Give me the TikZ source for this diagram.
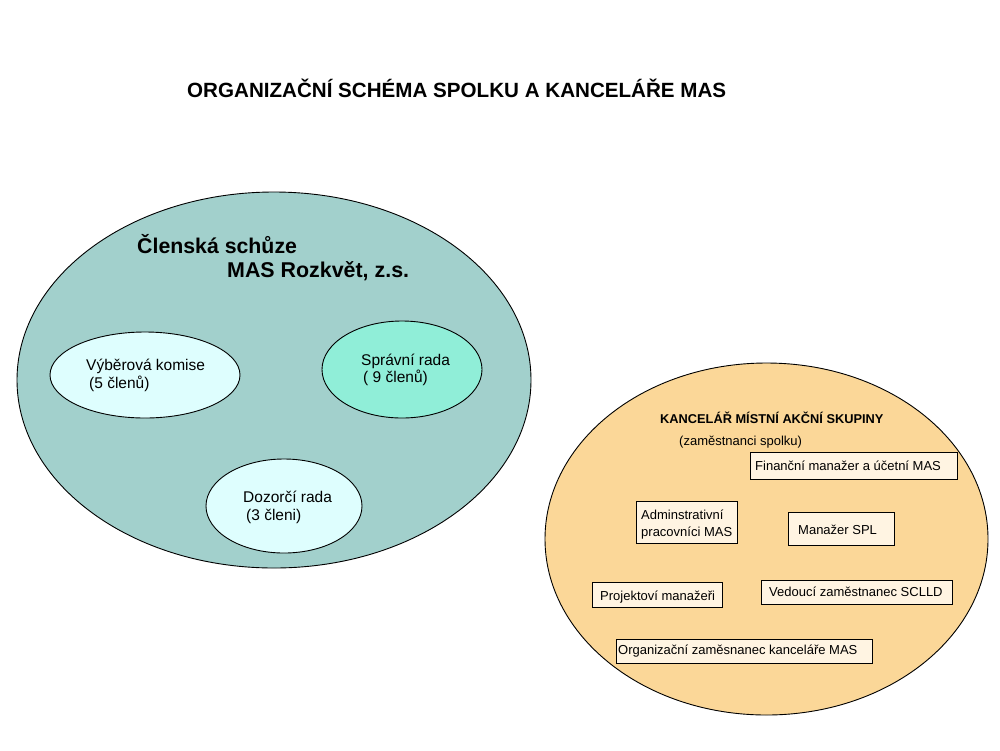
\documentclass[tikz,border=0pt]{standalone}
\usepackage{fontspec}
\setmainfont{Liberation Sans}
\usetikzlibrary{shapes.geometric}
\definecolor{bigteal}{RGB}{162,208,204}
\definecolor{lightcyan}{RGB}{222,254,254}
\definecolor{mint}{RGB}{144,238,216}
\definecolor{tan}{RGB}{251,215,152}
\definecolor{cream}{RGB}{255,244,226}
\tikzset{
  oval/.style={ellipse, draw=black, line width=0.9pt, inner sep=0pt},
  lbl/.style={anchor=base west, inner sep=0pt, font=\fontsize{15.5}{17}\selectfont},
  boxlbl/.style={draw=black, line width=0.9pt, fill=cream, inner sep=0pt, anchor=north west},
  boxtxt/.style={anchor=base west, inner sep=0pt, font=\fontsize{13}{16}\selectfont, align=left},
}
\begin{document}
\begin{tikzpicture}[x=1pt,y=-1pt]
\useasboundingbox (0,0) rectangle (1000,750);
% title
\node[anchor=base west, inner sep=0pt, font=\bfseries\fontsize{20.6}{22}\selectfont] (title) at (187,97) {ORGANIZAČNÍ SCHÉMA SPOLKU A KANCELÁŘE MAS};
% left big ellipse
\node[oval, fill=bigteal, minimum width=514pt, minimum height=376pt] (clen) at (274,380) {};
\node[anchor=base west, inner sep=0pt, font=\bfseries\fontsize{21.3}{24}\selectfont] (clent1) at (137,253) {Členská schůze};
\node[anchor=base west, inner sep=0pt, font=\bfseries\fontsize{21.4}{24}\selectfont] (clent2) at (227,277) {MAS Rozkvět, z.s.};
% inner ellipses
\node[oval, fill=lightcyan, minimum width=190pt, minimum height=86pt] (vyb) at (145,375) {};
\node[lbl] (vybt1) at (86,370) {Výběrová komise};
\node[lbl] (vybt2) at (89,388) {(5 členů)};
\node[oval, fill=mint, minimum width=160pt, minimum height=97pt] (spr) at (402,369.5) {};
\node[lbl] (sprt1) at (361,365) {Správní rada};
\node[lbl] (sprt2) at (363,382) {( 9 členů)};
\node[oval, fill=lightcyan, minimum width=156pt, minimum height=94pt] (doz) at (284,506) {};
\node[lbl] (dozt1) at (243,502) {Dozorčí rada};
\node[lbl] (dozt2) at (246,520) {(3 členi)};
% right ellipse
\node[oval, fill=tan, minimum width=443pt, minimum height=352pt] (kanc) at (766.5,539) {};
\node[anchor=base west, inner sep=0pt, font=\bfseries\fontsize{12.8}{15}\selectfont] (kanct1) at (660,423) {KANCELÁŘ MÍSTNÍ AKČNÍ SKUPINY};
\node[anchor=base west, inner sep=0pt, font=\fontsize{13}{15}\selectfont] (kanct2) at (679,445) {(zaměstnanci spolku)};
% boxes
\node[boxlbl, minimum width=207pt, minimum height=27pt] (fin) at (750,452) {};
\node[boxtxt] (fint) at (755,470) {Finanční manažer a účetní MAS};
\node[boxlbl, minimum width=101pt, minimum height=42pt] (adm) at (636,501) {};
\node[boxtxt] (admt1) at (641,519) {Adminstrativní};
\node[boxtxt] (admt2) at (641,536) {pracovníci MAS};
\node[boxlbl, minimum width=106pt, minimum height=33pt] (spl) at (788,512) {};
\node[boxtxt] (splt) at (798,534) {Manažer SPL};
\node[boxlbl, minimum width=130pt, minimum height=25pt] (proj) at (592,582) {};
\node[boxtxt] (projt) at (600,600) {Projektoví manažeři};
\node[boxlbl, minimum width=191pt, minimum height=24pt] (ved) at (761,580) {};
\node[boxtxt] (vedt) at (769,596) {Vedoucí zaměstnanec SCLLD};
\node[boxlbl, minimum width=256pt, minimum height=24pt] (org) at (616,639) {};
\node[boxtxt] (orgt) at (618,654) {Organizační zaměsnanec kanceláře MAS};
\end{tikzpicture}
\end{document}
